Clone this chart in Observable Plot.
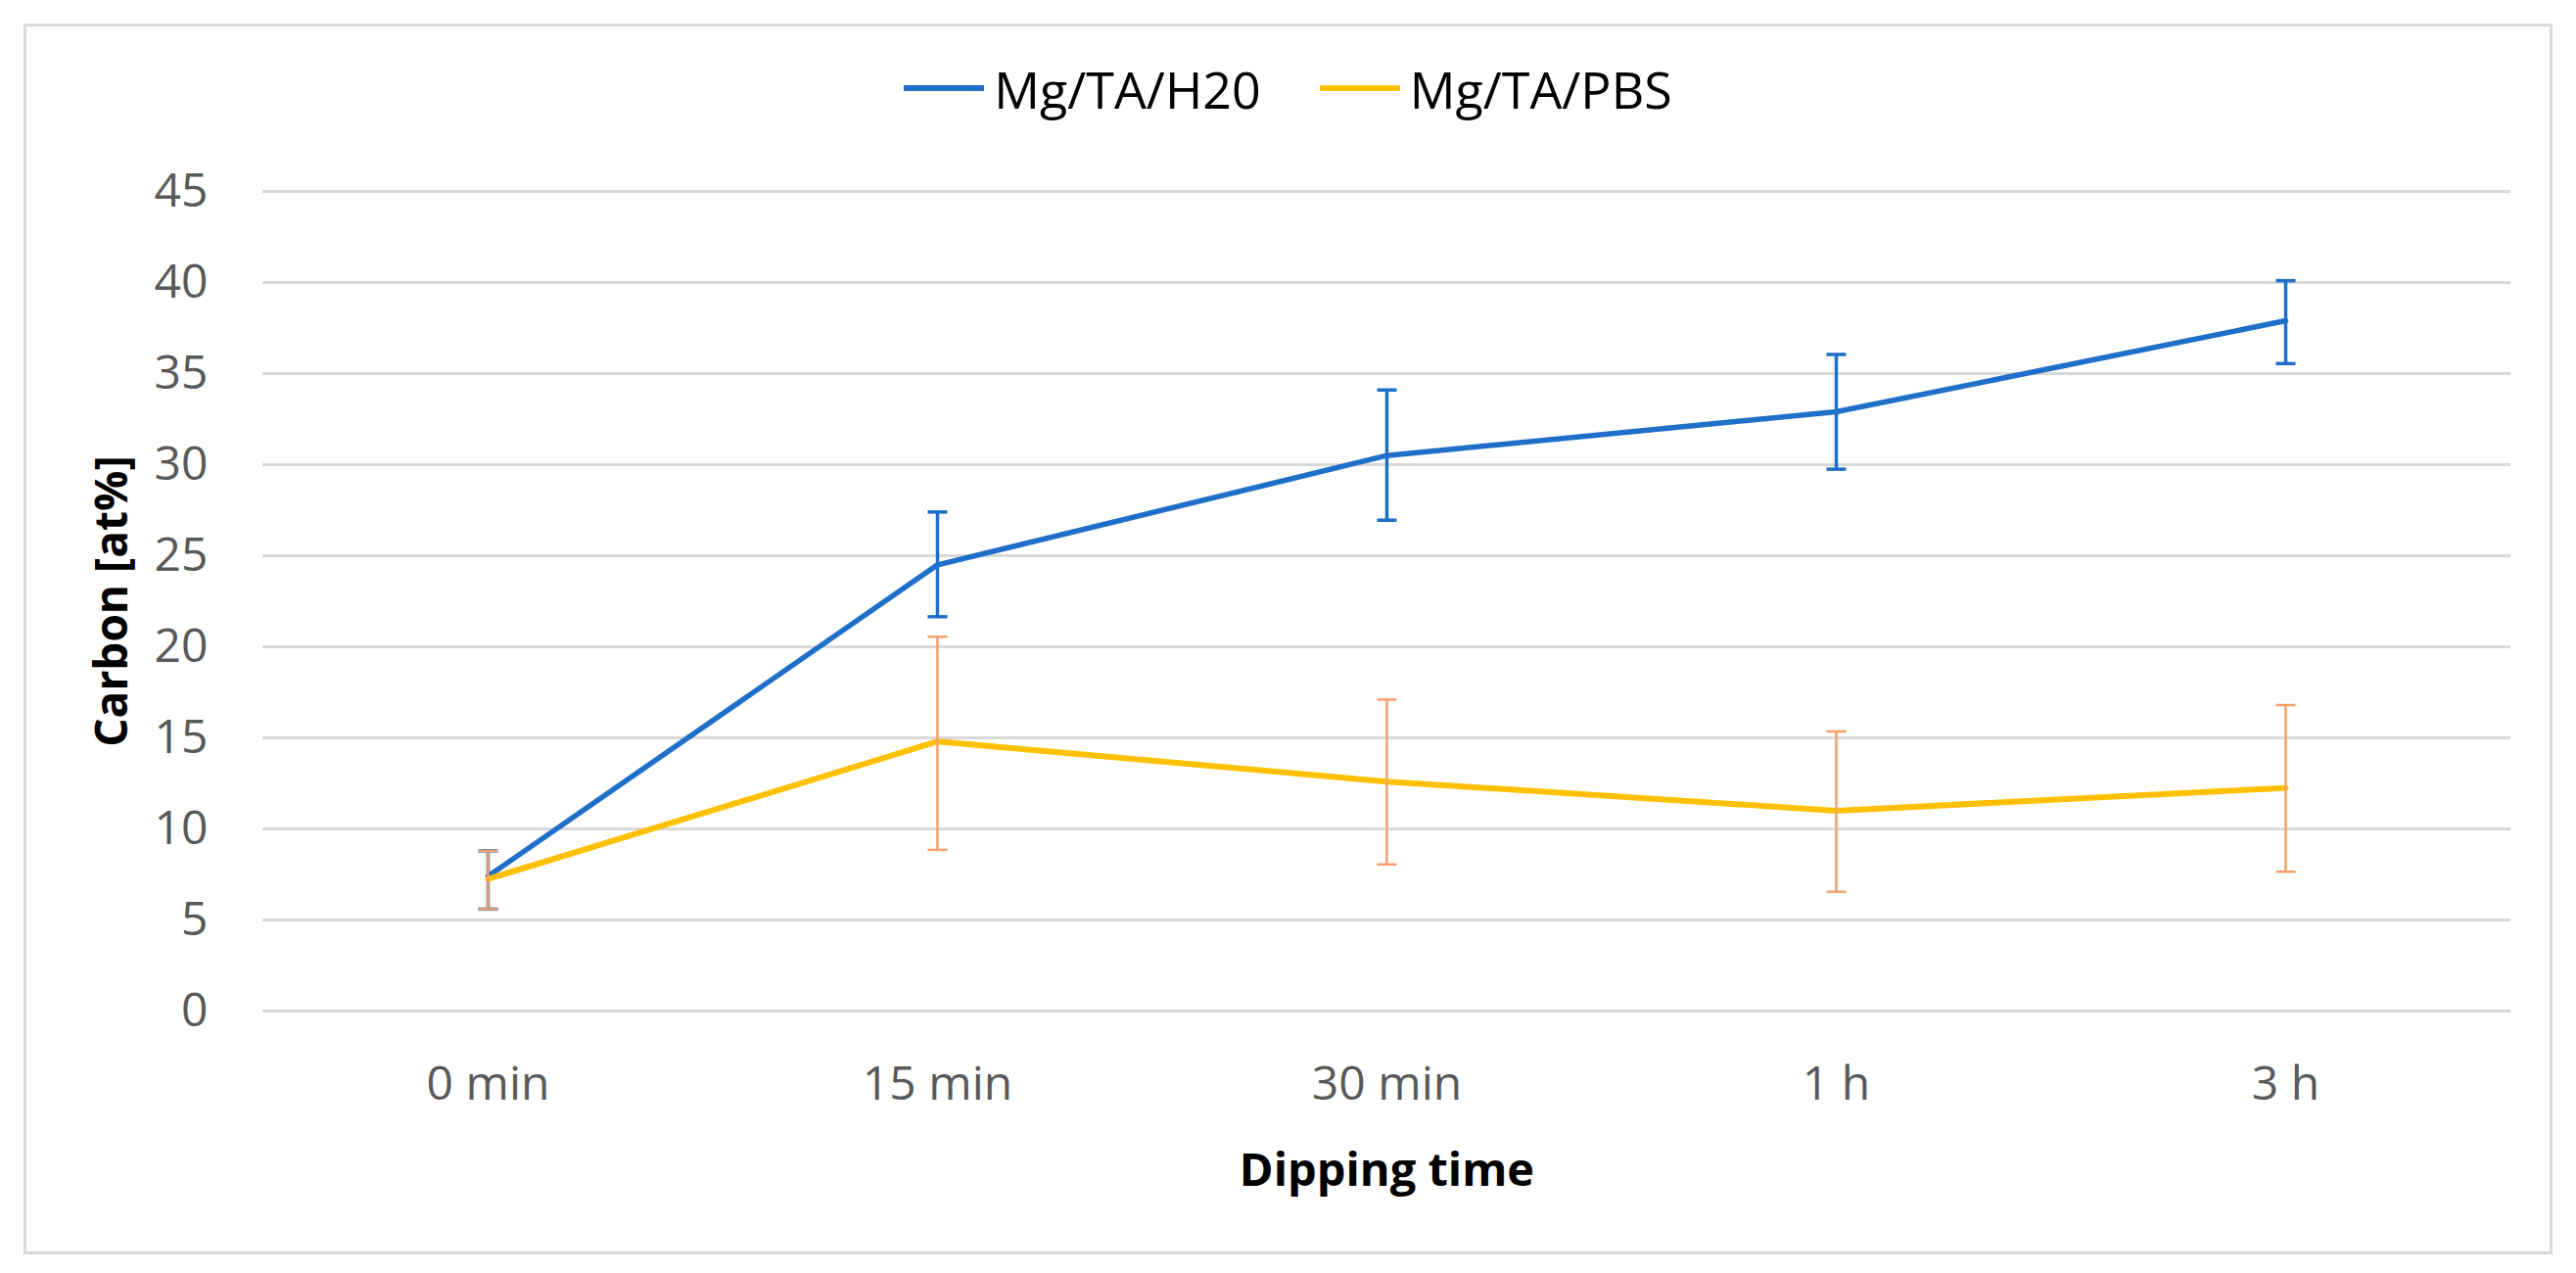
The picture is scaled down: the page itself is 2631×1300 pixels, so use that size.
<!DOCTYPE html>
<html>
<head>
<meta charset="utf-8">
<script src="https://cdn.jsdelivr.net/npm/d3@7"></script>
<script src="https://cdn.jsdelivr.net/npm/@observablehq/plot@0.6"></script>
<style>
  html, body { margin: 0; padding: 0; background: #fff; }
  #fig { position: relative; width: 2631px; height: 1300px; background: #fff; font-family: "Open Sans", sans-serif; }
  #frame { position: absolute; left: 24px; top: 24px; width: 2583px; height: 1257px; box-sizing: border-box; border: 3px solid #d9d9d9; }
  #legend { position: absolute; left: 0; top: 58px; width: 100%; height: 64px; display: flex; justify-content: center; align-items: center; font-size: 52px; color: #000; }
  .item { display: flex; align-items: center; margin: 0 30px; }
  .sw { width: 82px; height: 6px; margin-right: 10px; }
  #chart { position: absolute; left: 0; top: 140px; }
</style>
</head>
<body>
<div id="fig">
  <div id="frame"></div>
  <div id="legend"></div>
  <div id="chart"></div>
</div>
<script>
const categories = ["0 min", "15 min", "30 min", "1 h", "3 h"];
const seriesNames = ["Mg/TA/H20", "Mg/TA/PBS"];
const h2oValues = [7.4, 24.5, 30.5, 32.9, 37.9];
const h2oLow = [5.6, 21.65, 26.95, 29.75, 35.55];
const h2oHigh = [8.8, 27.4, 34.1, 36.05, 40.1];
const pbsValues = [7.25, 14.8, 12.6, 11.0, 12.25];
const pbsLow = [5.6, 8.85, 8.05, 6.55, 7.65];
const pbsHigh = [8.8, 20.55, 17.1, 15.35, 16.8];
const yTicks = [0, 5, 10, 15, 20, 25, 30, 35, 40, 45];
const xTitle = "Dipping time";
const yTitle = "Carbon [at%]";

const blue = "#1f6fc8";
const yellow = "#ffc000";
const orangeErr = "#f5a06a";

const h2o = categories.map((c, i) => ({cat: c, v: h2oValues[i], lo: h2oLow[i], hi: h2oHigh[i]}));
const pbs = categories.map((c, i) => ({cat: c, v: pbsValues[i], lo: pbsLow[i], hi: pbsHigh[i]}));

// legend
const legend = document.getElementById("legend");
[[seriesNames[0], blue], [seriesNames[1], yellow]].forEach(([name, col]) => {
  const it = document.createElement("div");
  it.className = "item";
  const sw = document.createElement("div");
  sw.className = "sw";
  sw.style.background = col;
  const tx = document.createElement("span");
  tx.textContent = name;
  it.appendChild(sw);
  it.appendChild(tx);
  legend.appendChild(it);
});

const capSymbol = {
  draw(context, size) {
    const w = 10;
    context.moveTo(-w, 0);
    context.lineTo(w, 0);
  }
};

const chart = Plot.plot({
  width: 2631,
  height: 1160,
  marginLeft: 268,
  marginRight: 67,
  marginTop: 55,
  marginBottom: 268,
  style: {fontFamily: "Open Sans, sans-serif", background: "transparent"},
  x: {type: "point", domain: categories, padding: 0.5, align: 0.5},
  y: {domain: [0, 45]},
  marks: [
    Plot.ruleY(yTicks, {stroke: "#d9d9d9", strokeWidth: 3}),
    Plot.axisY({ticks: yTicks, tickSize: 0, tickPadding: 56, fontSize: 48, color: "#595959", label: null}),
    Plot.axisX({tickSize: 0, tickPadding: 56, fontSize: 48, color: "#595959", label: null}),
    // H2O series
    Plot.line(h2o, {x: "cat", y: "v", stroke: blue, strokeWidth: 5.5, strokeLinejoin: "round", strokeLinecap: "round"}),
    Plot.ruleX(h2o, {x: "cat", y1: "lo", y2: "hi", stroke: blue, strokeWidth: 3.5}),
    Plot.dot(h2o, {x: "cat", y: "hi", symbol: capSymbol, stroke: blue, strokeWidth: 3.5, r: 5}),
    Plot.dot(h2o, {x: "cat", y: "lo", symbol: capSymbol, stroke: blue, strokeWidth: 3.5, r: 5}),
    // PBS series
    Plot.line(pbs, {x: "cat", y: "v", stroke: yellow, strokeWidth: 6, strokeLinejoin: "round", strokeLinecap: "round"}),
    Plot.ruleX(pbs, {x: "cat", y1: "lo", y2: "hi", stroke: orangeErr, strokeWidth: 2.5}),
    Plot.dot(pbs, {x: "cat", y: "hi", symbol: capSymbol, stroke: orangeErr, strokeWidth: 2.5, r: 5}),
    Plot.dot(pbs, {x: "cat", y: "lo", symbol: capSymbol, stroke: orangeErr, strokeWidth: 2.5, r: 5}),
    // axis titles
    Plot.text([xTitle], {text: d => d, frameAnchor: "bottom", lineAnchor: "top", dy: 145, fontSize: 47, fontWeight: "bold", fill: "#000"}),
    Plot.text([yTitle], {text: d => d, frameAnchor: "left", textAnchor: "middle", lineAnchor: "middle", rotate: -90, dx: -153, fontSize: 46, fontWeight: "bold", fill: "#000"})
  ]
});
document.getElementById("chart").appendChild(chart);
</script>
</body>
</html>
